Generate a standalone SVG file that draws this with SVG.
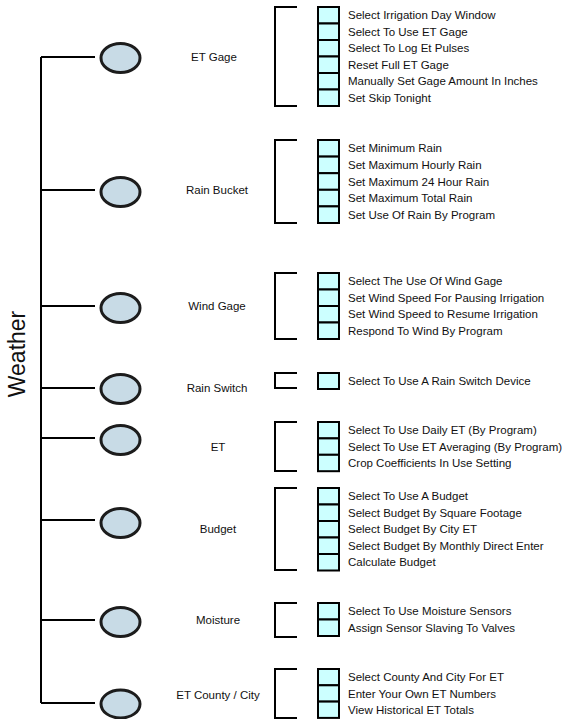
<svg xmlns="http://www.w3.org/2000/svg" width="568" height="719" viewBox="0 0 568 719">
<style>
.t{font-family:"Liberation Sans",Arial,sans-serif;font-size:11.5px;fill:#111}
.lbl{text-anchor:middle}
.ln{stroke:#000;stroke-width:2;fill:none}
.br{stroke:#000;stroke-width:2;fill:none}
.box{fill:#ccffff;stroke:#000;stroke-width:2}
.ov{fill:#c8dbe6;stroke:#1c1c1c;stroke-width:3}
</style>
<rect width="568" height="719" fill="#fff"/>
<text x="25" y="354" transform="rotate(-90 25 354)" text-anchor="middle" style="font-family:'Liberation Sans',Arial,sans-serif;font-size:23px;fill:#111">Weather</text>
<g id="connectors">
<path class="ln" d="M41,57 V703"/>
<path class="ln" d="M41,57 H95 M41,190 H95 M41,306 H95 M41,388 H95 M41,438 H95 M41,520 H95 M41,620 H95 M41,703 H95"/>
</g>
<g id="et-gage">
<ellipse class="ov" cx="120.5" cy="58" rx="19.5" ry="14.5"/>
<text class="t lbl" x="214" y="61">ET Gage</text>
<path class="br" d="M297,7 H275 V106 H297"/>
<rect class="box" x="318" y="7" width="21" height="16.5"/>
<rect class="box" x="318" y="23.5" width="21" height="16.5"/>
<rect class="box" x="318" y="40" width="21" height="16.5"/>
<rect class="box" x="318" y="56.5" width="21" height="16.5"/>
<rect class="box" x="318" y="73" width="21" height="16.5"/>
<rect class="box" x="318" y="89.5" width="21" height="16.5"/>
<text class="t" x="348" y="19.4">Select Irrigation Day Window</text>
<text class="t" x="348" y="35.9">Select To Use ET Gage</text>
<text class="t" x="348" y="52.4">Select To Log Et Pulses</text>
<text class="t" x="348" y="68.9">Reset Full ET Gage</text>
<text class="t" x="348" y="85.4">Manually Set Gage Amount In Inches</text>
<text class="t" x="348" y="101.9">Set Skip Tonight</text>
</g>
<g id="rain-bucket">
<ellipse class="ov" cx="120.5" cy="192" rx="19.5" ry="14.5"/>
<text class="t lbl" x="217" y="194">Rain Bucket</text>
<path class="br" d="M297,140 H275 V223 H297"/>
<rect class="box" x="318" y="140" width="21" height="16.6"/>
<rect class="box" x="318" y="156.6" width="21" height="16.6"/>
<rect class="box" x="318" y="173.2" width="21" height="16.6"/>
<rect class="box" x="318" y="189.8" width="21" height="16.6"/>
<rect class="box" x="318" y="206.4" width="21" height="16.6"/>
<text class="t" x="348" y="152.4">Set Minimum Rain</text>
<text class="t" x="348" y="169">Set Maximum Hourly Rain</text>
<text class="t" x="348" y="185.6">Set Maximum 24 Hour Rain</text>
<text class="t" x="348" y="202.2">Set Maximum Total Rain</text>
<text class="t" x="348" y="218.8">Set Use Of Rain By Program</text>
</g>
<g id="wind-gage">
<ellipse class="ov" cx="120.5" cy="308" rx="19.5" ry="14.5"/>
<text class="t lbl" x="217" y="310">Wind Gage</text>
<path class="br" d="M297,273 H275 V339 H297"/>
<rect class="box" x="318" y="273" width="21" height="16.5"/>
<rect class="box" x="318" y="289.5" width="21" height="16.5"/>
<rect class="box" x="318" y="306" width="21" height="16.5"/>
<rect class="box" x="318" y="322.5" width="21" height="16.5"/>
<text class="t" x="348" y="285.4">Select The Use Of Wind Gage</text>
<text class="t" x="348" y="301.9">Set Wind Speed For Pausing Irrigation</text>
<text class="t" x="348" y="318.4">Set Wind Speed to Resume Irrigation</text>
<text class="t" x="348" y="334.9">Respond To Wind By Program</text>
</g>
<g id="rain-switch">
<ellipse class="ov" cx="120.5" cy="389" rx="19.5" ry="14.5"/>
<text class="t lbl" x="217" y="392">Rain Switch</text>
<path class="br" d="M297,373 H275 V388 H297"/>
<rect class="box" x="318" y="373" width="21" height="16"/>
<text class="t" x="348" y="385.1">Select To Use A Rain Switch Device</text>
</g>
<g id="et">
<ellipse class="ov" cx="120.5" cy="440" rx="19.5" ry="14.5"/>
<text class="t lbl" x="218" y="451">ET</text>
<path class="br" d="M297,422 H275 V471 H297"/>
<rect class="box" x="318" y="422" width="21" height="16.4"/>
<rect class="box" x="318" y="438.4" width="21" height="16.4"/>
<rect class="box" x="318" y="454.8" width="21" height="16.4"/>
<text class="t" x="348" y="434.3">Select To Use Daily ET (By Program)</text>
<text class="t" x="348" y="450.7">Select To Use ET Averaging (By Program)</text>
<text class="t" x="348" y="467.1">Crop Coefficients In Use Setting</text>
</g>
<g id="budget">
<ellipse class="ov" cx="120.5" cy="523" rx="19.5" ry="14.5"/>
<text class="t lbl" x="218" y="533">Budget</text>
<path class="br" d="M297,488 H275 V570 H297"/>
<rect class="box" x="318" y="488" width="21" height="16.5"/>
<rect class="box" x="318" y="504.5" width="21" height="16.5"/>
<rect class="box" x="318" y="521" width="21" height="16.5"/>
<rect class="box" x="318" y="537.5" width="21" height="16.5"/>
<rect class="box" x="318" y="554" width="21" height="16.5"/>
<text class="t" x="348" y="500.4">Select To Use A Budget</text>
<text class="t" x="348" y="516.9">Select Budget By Square Footage</text>
<text class="t" x="348" y="533.4">Select Budget By City ET</text>
<text class="t" x="348" y="549.9">Select Budget By Monthly Direct Enter</text>
<text class="t" x="348" y="566.4">Calculate Budget</text>
</g>
<g id="moisture">
<ellipse class="ov" cx="120.5" cy="622" rx="19.5" ry="14.5"/>
<text class="t lbl" x="218" y="624">Moisture</text>
<path class="br" d="M297,603 H275 V637 H297"/>
<rect class="box" x="318" y="603" width="21" height="16.5"/>
<rect class="box" x="318" y="619.5" width="21" height="16.5"/>
<text class="t" x="348" y="615.4">Select To Use Moisture Sensors</text>
<text class="t" x="348" y="631.9">Assign Sensor Slaving To Valves</text>
</g>
<g id="et-county-city">
<ellipse class="ov" cx="120.5" cy="704" rx="19.5" ry="14"/>
<text class="t lbl" x="218" y="699">ET County / City</text>
<path class="br" d="M297,669 H275 V718 H297"/>
<rect class="box" x="318" y="669" width="21" height="16.3"/>
<rect class="box" x="318" y="685.3" width="21" height="16.3"/>
<rect class="box" x="318" y="701.6" width="21" height="16.3"/>
<text class="t" x="348" y="681.3">Select County And City For ET</text>
<text class="t" x="348" y="697.6">Enter Your Own ET Numbers</text>
<text class="t" x="348" y="713.9">View Historical ET Totals</text>
</g>
</svg>
